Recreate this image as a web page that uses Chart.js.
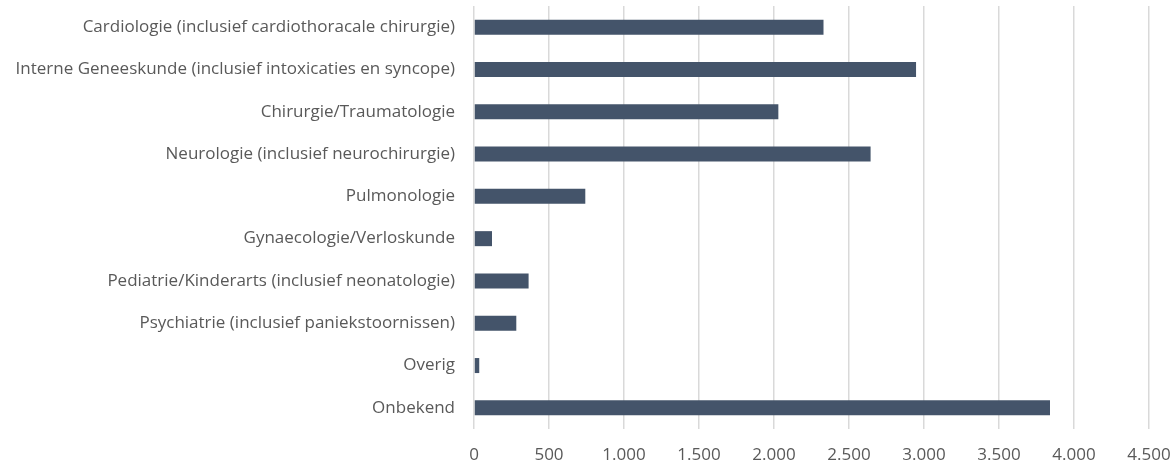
<!DOCTYPE html>
<html>
<head>
<meta charset="utf-8">
<script src="https://cdn.jsdelivr.net/npm/chart.js@4"></script>
<style>
    html, body { margin: 0; padding: 0; background: #ffffff; }
    #wrap { width: 1175px; height: 462px; }
</style>
</head>
<body>
<div id="wrap"><canvas id="graph"></canvas></div>
<script>
// Categories (top to bottom)
let categories = [
    "Cardiologie (inclusief cardiothoracale chirurgie)",
    "Interne Geneeskunde (inclusief intoxicaties en syncope)",
    "Chirurgie/Traumatologie",
    "Neurologie (inclusief neurochirurgie)",
    "Pulmonologie",
    "Gynaecologie/Verloskunde",
    "Pediatrie/Kinderarts (inclusief neonatologie)",
    "Psychiatrie (inclusief paniekstoornissen)",
    "Overig",
    "Onbekend"
];

// Number of patients per specialism
let counts = [2330, 2947, 2029, 2644, 742, 120, 364, 282, 35, 3840];

// Axis range
let axisMin = 0;
let axisMax = 4500;
let axisStep = 500;

const textColor = '#595959';
const fontFamily = "'Open Sans', sans-serif";

// Dutch thousands separator (1.000)
function formatNumber(v) {
    return String(v).replace(/\B(?=(\d{3})+(?!\d))/g, '.');
}

let dataGraph = {
    type: 'bar',
    data: {
        labels: categories,
        datasets: [{
            data: counts,
            backgroundColor: '#44546A',
            borderWidth: 0,
            barPercentage: 0.71,
            categoryPercentage: 0.5
        }]
    },
    options: {
        indexAxis: 'y',
        responsive: true,
        maintainAspectRatio: false,
        animation: false,
        layout: {
            padding: { top: 6, right: 26, bottom: 0, left: 0 }
        },
        plugins: {
            legend: { display: false },
            tooltip: { enabled: false }
        },
        scales: {
            x: {
                min: axisMin,
                max: axisMax,
                ticks: {
                    stepSize: axisStep,
                    color: textColor,
                    padding: 16,
                    font: { family: fontFamily, size: 17 },
                    callback: function (value) { return formatNumber(value); }
                },
                grid: {
                    color: '#d9d9d9',
                    lineWidth: 1.5,
                    drawTicks: false
                },
                border: { display: false },
                // fixed axis height, the end labels may hang over the edges
                afterFit: function (scale) {
                    scale.height = 33;
                    scale.paddingLeft = 0;
                    scale.paddingRight = 0;
                }
            },
            y: {
                ticks: {
                    color: textColor,
                    padding: 19,
                    font: { family: fontFamily, size: 17 }
                },
                grid: { display: false, drawTicks: false },
                border: { display: false },
                // fixed label column, and no extra space above/below the bars
                afterFit: function (scale) {
                    scale.width = 474;
                    scale.paddingTop = 0;
                    scale.paddingBottom = 0;
                }
            }
        }
    }
};

let ctx = document.getElementById('graph').getContext('2d');
let chart = new Chart(ctx, dataGraph);
</script>
</body>
</html>
